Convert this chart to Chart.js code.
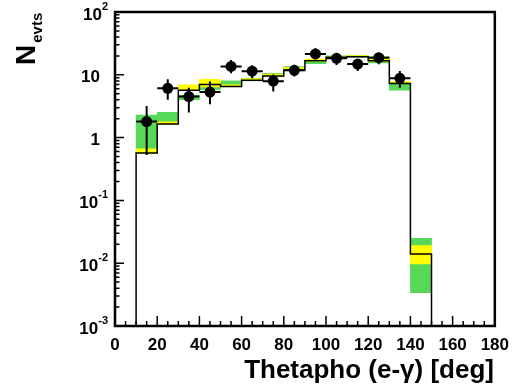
<!DOCTYPE html>
<html>
<head>
<meta charset="utf-8">
<script src="https://cdn.jsdelivr.net/npm/chart.js@4.4.1/dist/chart.umd.min.js"></script>
<style>
  html, body { margin: 0; padding: 0; background: #fff; }
  #wrap { width: 518px; height: 388px; }
</style>
</head>
<body>
<div id="wrap"><canvas id="plot" width="518" height="388"></canvas></div>
<script>
// MC histogram, 10 deg bins starting at binLow
const binLow   = [10, 20, 30, 40, 50, 60, 70, 80, 90, 100, 110, 120, 130, 140];
const mcValues = [0.57, 1.65, 5.7, 7.0, 6.5, 8.2, 9.6, 11.9, 16.8, 19.0, 19.4, 16.8, 7.3, 0.014];
// outer (green) and inner (yellow) uncertainty bands
const greenLo  = [0.57, 1.79, 4.0, 5.8, 6.9, 8.0, 9.3, 11.5, 15.0, 18.6, 19.0, 15.5, 5.7, 0.0034];
const greenHi  = [2.29, 2.53, 4.7, 6.6, 8.0, 8.9, 10.6, 13.5, 17.2, 20.0, 20.5, 19.5, 7.3, 0.025];
const yellowLo = [0.56, 1.65, 5.7, 6.4, 6.5, 8.2, 9.6, 11.9, 16.5, 18.8, 19.4, 16.5, 7.3, 0.0097];
const yellowHi = [0.66, 1.79, 6.9, 8.5, 6.9, 8.7, 10.3, 13.0, 17.8, 19.5, 20.3, 18.5, 7.8, 0.019];

// data points with errors
const dataX    = [15, 25, 35, 45, 55, 65, 75, 85, 95, 105, 115, 125, 135];
const dataY    = [1.8, 6.1, 4.5, 5.3, 13.6, 11.4, 7.9, 11.8, 21.5, 18.3, 14.8, 18.7, 8.8];
const dataHi   = [3.2, 8.5, 6.2, 7.8, 17.2, 14.2, 10.1, 14.5, 26.5, 22.0, 17.7, 22.5, 11.5];
const dataLo   = [0.53, 4.0, 2.5, 3.4, 10.6, 8.8, 5.4, 9.4, 17.7, 14.3, 11.5, 14.7, 6.2];

const xTicks   = [0, 20, 40, 60, 80, 100, 120, 140, 160, 180];
const yDecades = [-3, -2, -1, 0, 1, 2];

const binCentre = binLow.map(b => b + 5);
const FONT = "'Liberation Sans', Arial, sans-serif";

const mcLine = [{ x: binLow[0], y: 1e-3 }]
  .concat(binLow.map((b, i) => ({ x: b, y: mcValues[i] })))
  .concat([{ x: 150, y: mcValues[mcValues.length - 1] }, { x: 150, y: 1e-3 }]);

const decoration = {
  id: 'decoration',
  beforeDatasetDraw(chart, args) {
    if (args.index !== 0) return;
    const xs = chart.scales.x, ys = chart.scales.y;
    const ctx = chart.ctx;
    ctx.save();
    ctx.strokeStyle = '#000';
    ctx.lineWidth = 2;
    dataX.forEach((x, i) => {
      const py = ys.getPixelForValue(dataY[i]);
      ctx.beginPath();
      ctx.moveTo(xs.getPixelForValue(x - 5), py);
      ctx.lineTo(xs.getPixelForValue(x + 5), py);
      ctx.moveTo(xs.getPixelForValue(x), ys.getPixelForValue(dataHi[i]));
      ctx.lineTo(xs.getPixelForValue(x), ys.getPixelForValue(dataLo[i]));
      ctx.stroke();
    });
    ctx.restore();
  },
  afterDraw(chart) {
    const { ctx, chartArea: a } = chart;
    const xs = chart.scales.x, ys = chart.scales.y;
    ctx.save();
    ctx.strokeStyle = '#000';
    ctx.fillStyle = '#000';

    // ticks, pointing inwards
    ctx.lineWidth = 1.5;
    ctx.beginPath();
    for (let v = 0; v <= 180; v += 5) {
      const px = xs.getPixelForValue(v);
      const len = v % 20 === 0 ? 10 : 5;
      ctx.moveTo(px, a.bottom);
      ctx.lineTo(px, a.bottom - len);
    }
    yDecades.forEach(d => {
      for (let m = 1; m <= 9; m++) {
        const v = m * Math.pow(10, d);
        if (v > 100) break;
        const py = ys.getPixelForValue(v);
        ctx.moveTo(a.left, py);
        ctx.lineTo(a.left + (m === 1 ? 9 : 4.5), py);
      }
    });
    ctx.stroke();

    // frame
    ctx.lineWidth = 2.5;
    ctx.strokeRect(a.left, a.top, a.right - a.left, a.bottom - a.top);

    // y labels with exponents
    ctx.textBaseline = 'middle';
    yDecades.forEach(d => {
      const py = ys.getPixelForValue(Math.pow(10, d)) + 3;
      if (d === 0 || d === 1) {
        ctx.font = 'bold 17px ' + FONT;
        ctx.textAlign = 'right';
        ctx.fillText(d === 0 ? '1' : '10', 100, py);
      } else {
        ctx.font = 'bold 11px ' + FONT;
        ctx.textAlign = 'right';
        const sup = String(d);
        ctx.fillText(sup, 108, py - 8);
        const w = ctx.measureText(sup).width;
        ctx.font = 'bold 17px ' + FONT;
        ctx.fillText('10', 108 - w, py);
      }
    });

    // y title N_evts
    ctx.save();
    ctx.translate(35, 65);
    ctx.rotate(-Math.PI / 2);
    ctx.textAlign = 'left';
    ctx.textBaseline = 'alphabetic';
    ctx.font = 'bold 28px ' + FONT;
    ctx.fillText('N', 0, 0);
    const wn = ctx.measureText('N').width;
    ctx.font = 'bold 15px ' + FONT;
    ctx.fillText('evts', wn + 2, 7);
    ctx.restore();

    // x title
    ctx.font = 'bold 26px ' + FONT;
    ctx.textAlign = 'right';
    ctx.textBaseline = 'alphabetic';
    ctx.fillText('Thetapho (e-\u03B3) [deg]', 494, 378);
    ctx.restore();
  }
};

new Chart(document.getElementById('plot'), {
  type: 'scatter',
  data: {
    datasets: [
      {
        type: 'scatter',
        data: dataX.map((x, i) => ({ x: x, y: dataY[i] })),
        backgroundColor: '#000',
        borderWidth: 0,
        pointRadius: 5.5,
        order: 0
      },
      {
        type: 'line',
        data: mcLine,
        stepped: 'before',
        borderColor: '#000',
        borderWidth: 1.5,
        pointRadius: 0,
        fill: false,
        order: 1
      },
      {
        type: 'bar',
        data: binCentre.map((x, i) => ({ x: x, y: [yellowLo[i], yellowHi[i]] })),
        backgroundColor: '#ffff00',
        borderWidth: 0,
        grouped: false,
        categoryPercentage: 1,
        barPercentage: 1,
        order: 2
      },
      {
        type: 'bar',
        data: binCentre.map((x, i) => ({ x: x, y: [greenLo[i], greenHi[i]] })),
        backgroundColor: '#58d858',
        borderWidth: 0,
        grouped: false,
        categoryPercentage: 1,
        barPercentage: 1,
        order: 3
      }
    ]
  },
  options: {
    responsive: false,
    animation: false,
    devicePixelRatio: 1,
    layout: { padding: { left: 0, right: 19, top: 12, bottom: 0 } },
    plugins: { legend: { display: false }, tooltip: { enabled: false } },
    scales: {
      x: {
        type: 'linear',
        min: 0,
        max: 180,
        offset: false,
        afterFit(s) { s.height = 62; },
        afterBuildTicks(s) { s.ticks = xTicks.map(v => ({ value: v })); },
        grid: { display: false, drawTicks: false },
        border: { display: false },
        ticks: {
          color: '#000',
          padding: 9,
          maxRotation: 0,
          autoSkip: false,
          font: { family: FONT, weight: 'bold', size: 17 }
        }
      },
      y: {
        type: 'logarithmic',
        min: 1e-3,
        max: 100,
        afterFit(s) { s.width = 115; },
        grid: { display: false, drawTicks: false },
        border: { display: false },
        ticks: { display: false }
      }
    }
  },
  plugins: [decoration]
});
</script>
</body>
</html>
